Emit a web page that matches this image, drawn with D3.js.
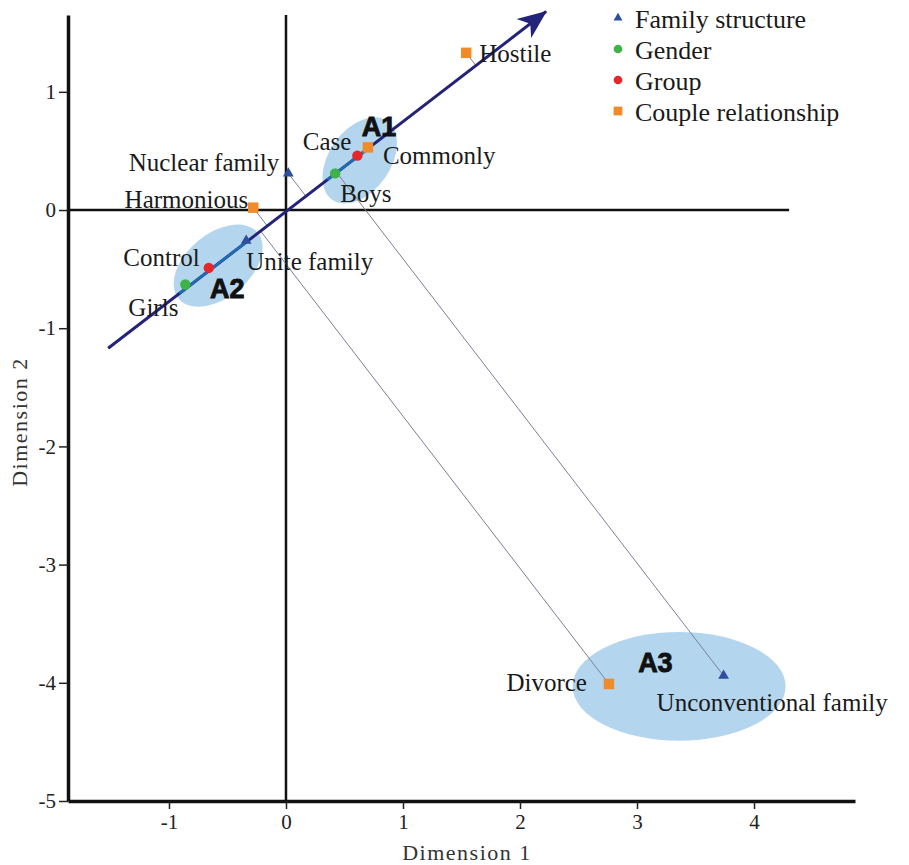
<!DOCTYPE html>
<html>
<head>
<meta charset="utf-8">
<script src="https://cdn.jsdelivr.net/npm/d3@7"></script>
<style>
  body { margin: 0; background: #fff; }
  svg text { font-family: "Liberation Serif", "Times New Roman", serif; }
</style>
</head>
<body>
<div id="chart"></div>
<script>
// ---- data ----
const categories = ["Family structure", "Gender", "Group", "Couple relationship"];
const pointLabels = ["Nuclear family", "Unite family", "Unconventional family", "Boys", "Girls",
    "Case", "Control", "Harmonious", "Commonly", "Hostile", "Divorce"];
const pointCategory = ["Family structure", "Family structure", "Family structure", "Gender", "Gender",
    "Group", "Group", "Couple relationship", "Couple relationship", "Couple relationship", "Couple relationship"];
const dim1 = [0.02, -0.34, 3.74, 0.42, -0.86, 0.61, -0.66, -0.28, 0.70, 1.54, 2.76];
const dim2 = [0.31, -0.26, -3.94, 0.31, -0.63, 0.46, -0.49, 0.02, 0.53, 1.33, -4.01];
const projected = ["Nuclear family", "Harmonious", "Hostile", "Divorce", "Unconventional family"];

const regionNames = ["A1", "A2", "A3"];
const regionDim1 = [0.63, -0.58, 3.36];
const regionDim2 = [0.42, -0.47, -4.03];
const regionR1 = [0.41, 0.44, 0.91];
const regionR2 = [0.26, 0.27, 0.46];
const clusterLinks = [["Girls", "Unite family"], ["Boys", "Commonly"]];

const arrowStart = [-1.52, -1.17];
const arrowEnd = [2.25, 1.70];

const xTicks = [-1, 0, 1, 2, 3, 4];
const yTicks = [1, 0, -1, -2, -3, -4, -5];

// ---- layout ----
const width = 909, height = 865;
const colors = {
    "Family structure": "#2d4f9f",
    "Gender": "#3fb34a",
    "Group": "#e5262b",
    "Couple relationship": "#f08b2a"
};
const shapes = {
    "Family structure": d3.symbolTriangle,
    "Gender": d3.symbolCircle,
    "Group": d3.symbolCircle,
    "Couple relationship": d3.symbolSquare
};
const symbolSize = { "Family structure": 50, "Gender": 85, "Group": 85, "Couple relationship": 110 };

// label offsets in px: dx, dy, anchor
const labelPos = {
    "Hostile": [13, 9, "start"],
    "Commonly": [15, 17, "start"],
    "Case": [-6, -6, "end"],
    "Nuclear family": [-9, -2, "end"],
    "Boys": [5, 29, "start"],
    "Harmonious": [-5, 0, "end"],
    "Control": [-9, -2, "end"],
    "Unite family": [0, 29, "start"],
    "Girls": [-32, 32, "middle"],
    "Divorce": [-22, 7, "end"],
    "Unconventional family": [-67, 35, "start"]
};
const regionAngle = [-55, -40, 0];
const regionLabelPos = [[2, -24], [-8, 32], [-41, -14]];

const svg = d3.select("#chart").append("svg")
    .attr("width", width)
    .attr("height", height);

const x = d3.scaleLinear().domain([-1.863, 4.863]).range([68, 855]);
const y = d3.scaleLinear().domain([-5, 1.65]).range([801, 15]);

const points = pointLabels.map((name, i) => ({
    name: name, cat: pointCategory[i], px: x(dim1[i]), py: y(dim2[i])
}));
const byName = {};
points.forEach(p => byName[p.name] = p);

// ellipses
const regions = regionNames.map((n, i) => ({
    name: n, cx: x(regionDim1[i]), cy: y(regionDim2[i]),
    rx: x(regionR1[i]) - x(0), ry: y(0) - y(regionR2[i]), angle: regionAngle[i], lp: regionLabelPos[i]
}));

svg.append('g').selectAll('ellipse')
    .data(regions)
    .enter()
    .append('ellipse')
    .attr('cx', 0).attr('cy', 0)
    .attr('rx', d => d.rx)
    .attr('ry', d => d.ry)
    .attr('transform', d => `translate(${d.cx},${d.cy}) rotate(${d.angle})`)
    .style('fill', '#b3d6ee');

// axes
const yAxis = svg.append('g')
    .attr('transform', `translate(${x.range()[0]},0)`)
    .call(d3.axisLeft(y).tickValues(yTicks).tickSize(9).tickSizeOuter(0).tickPadding(3).tickFormat(d => String(d)));
const xAxis = svg.append('g')
    .attr('transform', `translate(0,${y(-5)})`)
    .call(d3.axisBottom(x).tickValues(xTicks).tickSize(8).tickSizeOuter(0).tickPadding(5).tickFormat(d => String(d)));

[xAxis, yAxis].forEach(a => {
    a.select('.domain').attr('stroke', '#111').attr('stroke-width', 3.5);
    a.selectAll('.tick line').attr('stroke', '#222').attr('stroke-width', 1.5);
    a.selectAll('.tick text')
        .attr('fill', '#222')
        .style('font-size', '21px')
        .style('font-family', '"Liberation Serif", serif');
});

// cross lines through origin
svg.append('line')
    .attr('x1', x(0)).attr('x2', x(0))
    .attr('y1', y.range()[1]).attr('y2', y(-5))
    .attr('stroke', '#111').attr('stroke-width', 2.5);
svg.append('line')
    .attr('x1', x.range()[0]).attr('x2', x(4.3))
    .attr('y1', y(0)).attr('y2', y(0))
    .attr('stroke', '#111').attr('stroke-width', 2.5);

// axis titles
svg.append('text')
    .attr('x', 467).attr('y', 860)
    .attr('text-anchor', 'middle')
    .style('font-size', '22px')
    .style('letter-spacing', '1.5px')
    .attr('fill', '#333')
    .text('Dimension 1');
svg.append('text')
    .attr('transform', 'rotate(-90)')
    .attr('x', -422).attr('y', 27)
    .attr('text-anchor', 'middle')
    .style('font-size', '22px')
    .style('letter-spacing', '1.5px')
    .attr('fill', '#333')
    .text('Dimension 2');

// projection lines onto the arrow axis
const ax0 = x(arrowStart[0]), ay0 = y(arrowStart[1]);
const ax1 = x(arrowEnd[0]), ay1 = y(arrowEnd[1]);
const len = Math.hypot(ax1 - ax0, ay1 - ay0);
const ux = (ax1 - ax0) / len, uy = (ay1 - ay0) / len;
function project(p) {
    let t = (p.px - ax0) * ux + (p.py - ay0) * uy;
    return [ax0 + t * ux, ay0 + t * uy];
}
svg.append('g').selectAll('line')
    .data(points.filter(p => projected.includes(p.name)))
    .enter()
    .append('line')
    .attr('x1', d => d.px).attr('y1', d => d.py)
    .attr('x2', d => project(d)[0]).attr('y2', d => project(d)[1])
    .attr('stroke', '#7a8196')
    .attr('stroke-width', 1);

// arrow axis
const defs = svg.append('defs');
defs.append('marker')
    .attr('id', 'head')
    .attr('markerUnits', 'userSpaceOnUse')
    .attr('viewBox', '-30 -13 32 26')
    .attr('markerWidth', 32).attr('markerHeight', 26)
    .attr('refX', 0).attr('refY', 0)
    .attr('orient', 'auto')
    .append('path')
    .attr('d', 'M1,0 L-28,-12 L-20,0 L-28,12 Z')
    .attr('fill', '#23237a');

svg.append('line')
    .attr('x1', ax0).attr('y1', ay0)
    .attr('x2', ax1 - ux * 4).attr('y2', ay1 - uy * 4)
    .attr('stroke', '#23237a')
    .attr('stroke-width', 3)
    .attr('marker-end', 'url(#head)');

// lighter segments inside the clusters
svg.append('g').selectAll('line')
    .data(clusterLinks)
    .enter()
    .append('line')
    .attr('x1', d => project(byName[d[0]])[0] - ux * 10)
    .attr('y1', d => project(byName[d[0]])[1] - uy * 10)
    .attr('x2', d => project(byName[d[1]])[0])
    .attr('y2', d => project(byName[d[1]])[1])
    .attr('stroke', '#1f6db3')
    .attr('stroke-width', 2.6);

// markers
svg.append('g').selectAll('path')
    .data(points)
    .enter()
    .append('path')
    .attr('transform', d => `translate(${d.px},${d.py})`)
    .attr('d', d => d3.symbol().type(shapes[d.cat]).size(symbolSize[d.cat])())
    .style('fill', d => colors[d.cat]);

// point labels
svg.append('g').selectAll('text')
    .data(points)
    .enter()
    .append('text')
    .attr('x', d => d.px + labelPos[d.name][0])
    .attr('y', d => d.py + labelPos[d.name][1])
    .attr('text-anchor', d => labelPos[d.name][2])
    .style('font-size', '25px')
    .attr('fill', '#1a1a1a')
    .text(d => d.name);

// region labels
svg.append('g').selectAll('text')
    .data(regions)
    .enter()
    .append('text')
    .attr('x', d => d.cx + d.lp[0])
    .attr('y', d => d.cy + d.lp[1])
    .style('font-family', '"Liberation Sans", Arial, sans-serif')
    .style('font-weight', 'bold')
    .style('font-size', '27px')
    .attr('fill', '#111')
    .attr('stroke', '#111')
    .attr('stroke-width', 0.9)
    .text(d => d.name);

// legend
const legend = svg.append('g')
    .attr('transform', 'translate(618,18)');
const rows = legend.selectAll('g')
    .data(categories)
    .enter()
    .append('g')
    .attr('transform', (d, i) => `translate(0,${i * 31})`);
rows.append('path')
    .attr('d', d => d3.symbol().type(shapes[d]).size(symbolSize[d] * 0.7)())
    .style('fill', d => colors[d]);
rows.append('text')
    .attr('x', 17)
    .attr('y', 10)
    .style('font-size', '26px')
    .attr('fill', '#1a1a1a')
    .text(d => d);
</script>
</body>
</html>
